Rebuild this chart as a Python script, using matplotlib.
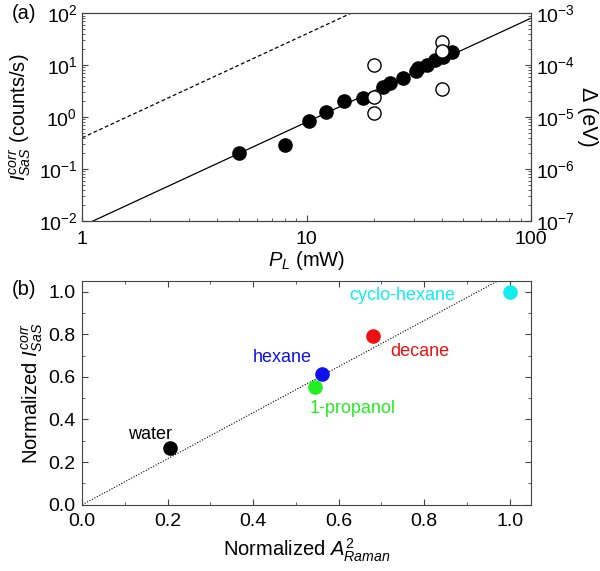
import numpy as np
import matplotlib
matplotlib.use("Agg")
import matplotlib.pyplot as plt
from matplotlib import ticker

plt.rcParams["font.family"] = ["Liberation Sans", "DejaVu Sans"]
plt.rcParams["mathtext.fontset"] = "custom"
plt.rcParams["mathtext.rm"] = "Liberation Sans"
plt.rcParams["mathtext.it"] = "Liberation Sans:italic"
plt.rcParams["mathtext.bf"] = "Liberation Sans:bold"
plt.rcParams["font.size"] = 14

# panel (a): power dependence
power_filled = [5.0, 8.0, 10.2, 12.2, 14.7, 17.8, 21.9, 23.5, 26.9, 30.7, 31.3, 34.4, 37.3, 40.5, 44.5]
signal_filled = [0.20, 0.29, 0.84, 1.25, 2.0, 2.3, 3.8, 4.5, 5.6, 7.7, 8.7, 10.0, 12.5, 14.3, 17.8]
power_open = [20.0, 20.0, 20.0, 40.0, 40.0, 40.0]
signal_open = [10.0, 2.43, 1.2, 27.7, 18.5, 3.4]
fit_x = [1.0, 100.0]
fit_solid = [0.008, 80.0]
fit_dashed = [0.4, 4000.0]

# panel (b): solvents
solvents = ["water", "1-propanol", "hexane", "decane", "cyclo-hexane"]
raman_norm = [0.205, 0.545, 0.56, 0.68, 1.0]
sas_norm = [0.267, 0.553, 0.614, 0.793, 0.998]
solvent_colors = ["black", "#22ee22", "#1010ee", "#ee1111", "#11eeee"]
label_pos = [(0.21, 0.33, "right"), (0.533, 0.45, "left"), (0.40, 0.69, "left"),
             (0.72, 0.72, "left"), (0.625, 0.98, "left")]
guide_x = [0.0, 1.05]
guide_y = [0.0, 1.134]

spine_col = "#444444"
tick_fs = 14
label_fs = 14.5
note_fs = 13

fig = plt.figure(figsize=(6.0, 5.71), dpi=100)
ax1 = fig.add_axes([0.137, 0.613, 0.748, 0.364])
ax2 = fig.add_axes([0.137, 0.116, 0.748, 0.392])

# ---- (a)
ax1.plot(fit_x, fit_solid, color="black", lw=0.9)
ax1.plot(fit_x, fit_dashed, color="black", lw=0.9, ls=(0, (3, 2)))
ax1.plot(power_filled, signal_filled, "o", ms=9.5, mfc="black", mec="black")
ax1.plot(power_open, signal_open, "o", ms=9.5, mfc="white", mec="black", mew=1.0)
ax1.set_xscale("log")
ax1.set_yscale("log")
ax1.set_xlim(1, 100)
ax1.set_ylim(1e-2, 1e2)
ax1.xaxis.set_major_formatter(ticker.FuncFormatter(lambda v, _: f"{v:g}"))
ax1.yaxis.set_major_locator(ticker.LogLocator(base=10, numticks=10))
ax1.yaxis.set_minor_locator(ticker.LogLocator(base=10, subs=np.arange(2, 10), numticks=10))
ax1.tick_params(which="both", direction="in", top=False, right=False, labelsize=tick_fs)
ax1.tick_params(which="major", length=4)
ax1.tick_params(which="minor", length=2)
ax1.tick_params(axis="x", pad=7)
ax1.set_xlabel("$P_L$ (mW)", fontsize=label_fs, labelpad=1)
ax1.set_ylabel("$I^{corr}_{SaS}$ (counts/s)", fontsize=label_fs, labelpad=4)

axr = ax1.twinx()
axr.set_yscale("log")
axr.set_ylim(1e-7, 1e-3)
axr.yaxis.set_major_locator(ticker.LogLocator(base=10, numticks=10))
axr.yaxis.set_minor_locator(ticker.LogLocator(base=10, subs=np.arange(2, 10), numticks=10))
axr.tick_params(which="both", direction="in", labelsize=tick_fs)
axr.tick_params(which="major", length=4)
axr.tick_params(which="minor", length=2)
axr.set_ylabel("Δ (eV)", fontsize=label_fs + 1, rotation=270, labelpad=17)

for ax in (ax1, axr, ax2):
    for sp in ax.spines.values():
        sp.set_color(spine_col)
    ax.tick_params(which="both", color=spine_col)

fig.text(0.02, 0.977, "(a)", fontsize=label_fs, va="center")
fig.text(0.02, 0.493, "(b)", fontsize=label_fs, va="center")

# ---- (b)
ax2.plot(guide_x, guide_y, color="black", lw=0.8, ls=(0, (1, 1.5)))
for x, y, c in zip(raman_norm, sas_norm, solvent_colors):
    ax2.plot(x, y, "o", ms=9.5, color=c, clip_on=False)
for name, c, (lx, ly, ha) in zip(solvents, solvent_colors, label_pos):
    ax2.text(lx, ly, name, color=c, fontsize=note_fs, ha=ha, va="center")
ax2.set_xlim(0, 1.05)
ax2.set_ylim(0, 1.05)
ax2.xaxis.set_major_locator(ticker.MultipleLocator(0.2))
ax2.xaxis.set_minor_locator(ticker.MultipleLocator(0.1))
ax2.yaxis.set_major_locator(ticker.MultipleLocator(0.2))
ax2.yaxis.set_minor_locator(ticker.MultipleLocator(0.1))
ax2.xaxis.set_major_formatter(ticker.FormatStrFormatter("%.1f"))
ax2.yaxis.set_major_formatter(ticker.FormatStrFormatter("%.1f"))
ax2.tick_params(which="both", direction="in", top=True, right=True, labelsize=tick_fs)
ax2.tick_params(which="major", length=4)
ax2.tick_params(which="minor", length=2)
ax2.tick_params(axis="x", pad=6)
ax2.tick_params(axis="y", pad=5)
ax2.set_xlabel("Normalized $A^2_{Raman}$", fontsize=label_fs, labelpad=5)
ax2.set_ylabel("Normalized $I^{corr}_{SaS}$", fontsize=label_fs, labelpad=2)

fig.savefig("out.png", dpi=100)
